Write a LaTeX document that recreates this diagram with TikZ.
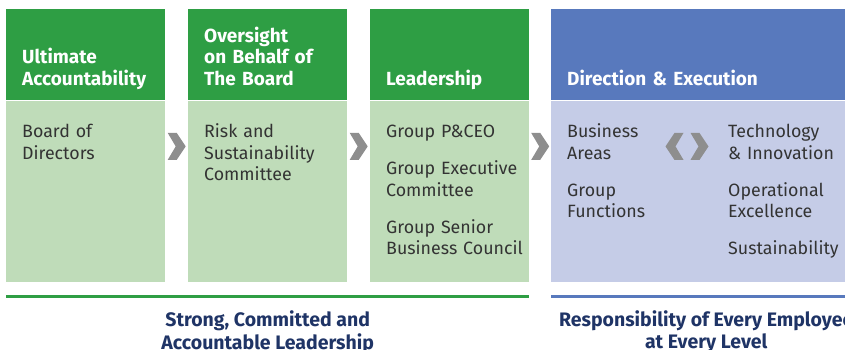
\documentclass[tikz,border=0pt]{standalone}
\usepackage{fontspec}
\setmainfont{Fira Sans}
\usepackage{tikz}
\usetikzlibrary{calc}

\definecolor{hgreen}{HTML}{2E9E44}
\definecolor{bgreen}{HTML}{BFDCB9}
\definecolor{hblue}{HTML}{5879BD}
\definecolor{bblue}{HTML}{C5CCE7}
\definecolor{chevgray}{HTML}{8E8E8E}
\definecolor{navy}{HTML}{1F3466}
\definecolor{ink}{HTML}{333333}

\begin{document}
\begin{tikzpicture}[x=1pt, y=-1pt,
  box/.style={inner sep=0pt, minimum width=159pt, anchor=north west},
  hdr/.style={box, minimum height=91pt},
  bdy/.style={box, minimum height=181pt},
  htext/.style={anchor=south west, inner sep=0pt, text width=150pt, align=left, text=white,
    font=\fontsize{19}{21.5}\selectfont\bfseries, execute at end node=\strut},
  btext/.style={anchor=north west, inner sep=0pt, text width=150pt, align=left, text=ink,
    font=\fontsize{17.8}{21.5}\selectfont, execute at begin node=\strut},
  captext/.style={anchor=north, inner sep=0pt, align=center, text=navy,
    font=\fontsize{19.5}{20.5}\selectfont\bfseries},
  chev/.pic={\fill[chevgray] (-9,-13.5) -- (0,-13.5) -- (9,0) -- (0,13.5) -- (-9,13.5) -- (-1,0) -- cycle;}
]
  \useasboundingbox (0,0) rectangle (845,350);
  % Boxes: header and body
  \node[hdr, fill=hgreen] (h1) at (6,9) {};
  \node[bdy, fill=bgreen] (b1) at (h1.south west) {};
  \node[hdr, fill=hgreen] (h2) at (188,9) {};
  \node[bdy, fill=bgreen] (b2) at (h2.south west) {};
  \node[hdr, fill=hgreen] (h3) at (370,9) {};
  \node[bdy, fill=bgreen] (b3) at (h3.south west) {};
  \node[hdr, fill=hblue, minimum width=310pt] (h4) at (551,9) {};
  \node[bdy, fill=bblue, minimum width=310pt] (b4) at (h4.south west) {};
  % Header titles
  \node[htext] (t1) at ($(h1.south west)+(16,-8.5)$) {Ultimate\\Accountability};
  \node[htext] (t2) at ($(h2.south west)+(16,-8.5)$) {Oversight\\on Behalf of\\The Board};
  \node[htext] (t3) at ($(h3.south west)+(16,-8.5)$) {Leadership};
  \node[htext, text width=250pt] (t4) at ($(h4.south west)+(16,-8.5)$) {Direction \& Execution};
  % Body texts
  \node[btext] (p1) at ($(b1.north west)+(16,22)$) {Board of\\Directors};
  \node[btext] (p2) at ($(b2.north west)+(16,22)$) {Risk and\\Sustainability\\Committee};
  \node[btext] (p3) at ($(b3.north west)+(16,22)$)
    {Group P\&CEO\\[15.5pt]Group Executive\\Committee\\[15.5pt]Group Senior\\Business Council};
  \node[btext] (p4) at ($(b4.north west)+(16,22)$) {Business\\Areas\\[15.5pt]Group\\Functions};
  \node[btext] (p5) at ($(b4.north west)+(177,22)$)
    {Technology\\\& Innovation\\[15.5pt]Operational\\Excellence\\[15.5pt]Sustainability};
  % Chevrons between boxes
  \foreach \a/\b in {b1/b2, b2/b3, b3/b4} {
    \pic at ($(\a.north east)!0.5!(\b.north west)+(0,46)$) {chev};
  }
  \pic[xscale=-1] at ($(b4.north west)+(123.5,46)$) {chev};
  \pic at ($(b4.north west)+(148.5,46)$) {chev};
  % Bottom rules and captions
  \draw[hgreen, line width=2.8pt] ($(b1.south west)+(0,15)$) coordinate (g0)
    -- ($(b3.south east)+(0,15)$) coordinate (g1);
  \draw[hblue, line width=2.8pt] ($(b4.south west)+(0,15)$) coordinate (u0)
    -- ($(b4.south east)+(0,15)$) coordinate (u1);
  \node[captext] (c1) at ($(g0)!0.5!(g1)+(0,14)$) {\strut Strong, Committed and\\Accountable Leadership};
  \node[captext] (c2) at ($(u0)!0.5!(u1)+(0,14)$) {\strut Responsibility of Every Employee\\at Every Level};
\end{tikzpicture}
\end{document}
